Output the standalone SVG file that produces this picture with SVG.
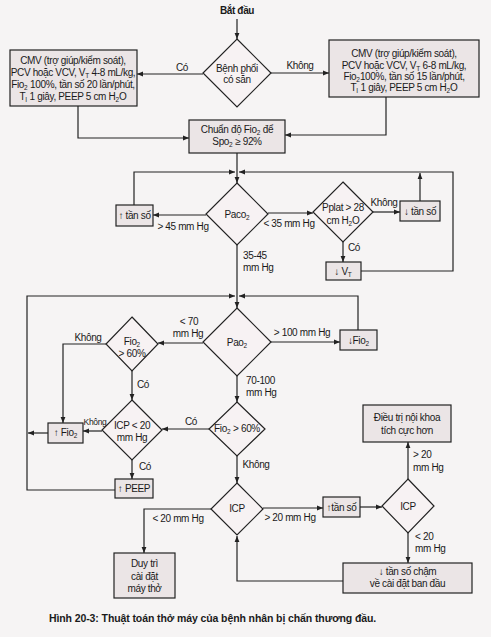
<svg xmlns="http://www.w3.org/2000/svg" width="491" height="637" viewBox="0 0 491 637">
<defs>
<marker id="ah" viewBox="0 0 10 10" refX="10" refY="5" markerWidth="6" markerHeight="6" orient="auto" markerUnits="userSpaceOnUse"><path d="M0,1 L10,5 L0,9 z" fill="#222"/></marker>
<style>
.box{fill:#ebe5e6;stroke:#222;stroke-width:1.2}
.dia{fill:#f7f2f3;stroke:#222;stroke-width:1.2}
.ln{fill:none;stroke:#222;stroke-width:1.2;marker-end:url(#ah)}
.nl{fill:none;stroke:#222;stroke-width:1.2}
text{font-family:"Liberation Sans",Arial,sans-serif;font-size:10px;letter-spacing:-0.35px;fill:#1a1a1a}
.c{text-anchor:middle}
.s{font-size:6.5px;letter-spacing:0}
.sm{font-size:8.5px}
.b{font-weight:bold}
</style>
</defs>
<rect x="0" y="0" width="491" height="637" fill="#f6f4f4"/>

<g id="connectors">
<path class="ln" d="M237,19 V39"/>
<path class="ln" d="M203,74 H137"/>
<path class="ln" d="M271,73 H329"/>
<path class="ln" d="M78,106 V138 H189"/>
<path class="ln" d="M386,97 V135 H285"/>
<path class="ln" d="M237,153 V183"/>
<path class="ln" d="M206,215 H153"/>
<path class="ln" d="M134,205 V172 H235"/>
<path class="ln" d="M268,213 H313"/>
<path class="ln" d="M373,212 H400"/>
<path class="ln" d="M420,201 V173"/>
<path class="ln" d="M343,242 V262"/>
<path class="ln" d="M361,271 H453 V172 H239"/>
<path class="ln" d="M237,245 V308"/>
<path class="ln" d="M203,343 H158"/>
<path class="ln" d="M106,344 H63 V423"/>
<path class="ln" d="M132,371 V400"/>
<path class="ln" d="M102,431 H83"/>
<path class="ln" d="M48,433 H28"/>
<path class="ln" d="M132,460 V479"/>
<path class="ln" d="M115,490 H27 V296 H235"/>
<path class="ln" d="M271,342 H340"/>
<path class="ln" d="M358,330 V296 H239"/>
<path class="ln" d="M237,376 V402"/>
<path class="ln" d="M209,429 H162"/>
<path class="ln" d="M237,456 V483"/>
<path class="ln" d="M211,509 H144 V553"/>
<path class="ln" d="M263,508 H323"/>
<path class="ln" d="M360,507 H382"/>
<path class="ln" d="M408,479 V442"/>
<path class="ln" d="M408,533 V563"/>
<path class="ln" d="M343,581 H237 V536"/>
</g>

<g id="labels">
<text class="c" x="182" y="71">Có</text>
<text class="c" x="300" y="69">Không</text>
<text class="c" x="183" y="230">&gt; 45 mm Hg</text>
<text class="c" x="289" y="227">&lt; 35 mm Hg</text>
<text class="c" x="384" y="206">Không</text>
<text class="c" x="354" y="251">Có</text>
<text x="243" y="259">35-45</text>
<text x="243" y="271">mm Hg</text>
<text class="c" x="189" y="325">&lt; 70</text>
<text class="c" x="188" y="337">mm Hg</text>
<text class="c" x="88" y="341">Không</text>
<text class="c" x="143" y="388">Có</text>
<text class="c" x="302" y="336">&gt; 100 mm Hg</text>
<text x="246" y="384">70-100</text>
<text x="246" y="396">mm Hg</text>
<text class="c" x="191" y="425">Có</text>
<text class="c sm" x="95" y="425">Không</text>
<text class="c" x="145" y="470">Có</text>
<text class="c" x="256" y="468">Không</text>
<text class="c" x="178" y="522">&lt; 20 mm Hg</text>
<text class="c" x="290" y="521">&gt; 20 mm Hg</text>
<text x="413" y="458">&gt; 20</text>
<text x="413" y="471">mm Hg</text>
<text x="415" y="540">&lt; 20</text>
<text x="415" y="552">mm Hg</text>
</g>

<g id="start"><text class="c b" x="237" y="14">Bắt đầu</text></g>

<g id="d-benhphoi">
<polygon class="dia" points="237,39 271,73 237,107 203,73"/>
<text class="c" x="237" y="72">Bệnh phổi</text>
<text class="c" x="237" y="83">có sẵn</text>
</g>

<g id="box-left">
<rect class="box" x="10" y="50" width="127" height="56"/>
<text class="c" x="73" y="64">CMV (trợ giúp/kiểm soát),</text>
<text class="c" x="73" y="76">PCV hoặc VCV, V<tspan class="s" dy="2">T</tspan><tspan dy="-2"> 4-8 mL/kg,</tspan></text>
<text class="c" x="73" y="88">Fio<tspan class="s" dy="2">2</tspan><tspan dy="-2"> 100%, tần số 20 lần/phút,</tspan></text>
<text class="c" x="73" y="100">T<tspan class="s" dy="2">I</tspan><tspan dy="-2"> 1 giây, PEEP 5 cm H</tspan><tspan class="s" dy="2">2</tspan><tspan dy="-2">O</tspan></text>
</g>

<g id="box-right">
<rect class="box" x="329" y="40" width="150" height="57"/>
<text class="c" x="404" y="57">CMV (trợ giúp/kiểm soát),</text>
<text class="c" x="404" y="69">PCV hoặc VCV, V<tspan class="s" dy="2">T</tspan><tspan dy="-2"> 6-8 mL/kg,</tspan></text>
<text class="c" x="404" y="80">Fio<tspan class="s" dy="2">2</tspan><tspan dy="-2">100%, tần số 15 lần/phút,</tspan></text>
<text class="c" x="404" y="91">T<tspan class="s" dy="2">I</tspan><tspan dy="-2"> 1 giây, PEEP 5 cm H</tspan><tspan class="s" dy="2">2</tspan><tspan dy="-2">O</tspan></text>
</g>

<g id="box-chuando">
<rect class="box" x="189" y="120" width="96" height="33"/>
<text class="c" x="237" y="133">Chuẩn độ Fio<tspan class="s" dy="2">2</tspan><tspan dy="-2"> để</tspan></text>
<text class="c" x="237" y="145">Spo<tspan class="s" dy="2">2</tspan><tspan dy="-2"> ≥ 92%</tspan></text>
</g>

<g id="d-paco2">
<polygon class="dia" points="237,183 268,214 237,245 206,214"/>
<text class="c" x="237" y="218">Paco<tspan class="s" dy="2">2</tspan></text>
</g>

<g id="box-tanso-up">
<rect class="box" x="116" y="205" width="37" height="21"/>
<text class="c" x="134.5" y="219">↑ tần số</text>
</g>

<g id="d-pplat">
<polygon class="dia" points="343,182 373,212 343,242 313,212"/>
<text class="c" x="343" y="211">Pplat &gt; 28</text>
<text class="c" x="343" y="224">cm H<tspan class="s" dy="2">2</tspan><tspan dy="-2">O</tspan></text>
</g>

<g id="box-tanso-down">
<rect class="box" x="400" y="201" width="40" height="20"/>
<text class="c" x="420" y="215">↓ tần số</text>
</g>

<g id="box-vt">
<rect class="box" x="326" y="262" width="35" height="18"/>
<text class="c" x="343" y="275">↓  V<tspan class="s" dy="2">T</tspan></text>
</g>

<g id="d-pao2">
<polygon class="dia" points="237,308 271,342 237,376 203,342"/>
<text class="c" x="237" y="346">Pao<tspan class="s" dy="2">2</tspan></text>
</g>

<g id="d-fio2-a">
<polygon class="dia" points="132,317 158,344 132,371 106,344"/>
<text class="c" x="132" y="345">Fio<tspan class="s" dy="2">2</tspan></text>
<text class="c" x="132" y="357">&gt; 60%</text>
</g>

<g id="box-fio2-down">
<rect class="box" x="340" y="330" width="37" height="20"/>
<text class="c" x="358.5" y="344">↓Fio<tspan class="s" dy="2">2</tspan></text>
</g>

<g id="d-icp20">
<polygon class="dia" points="132,400 162,430 132,460 102,430"/>
<text class="c" x="132" y="429">ICP &lt; 20</text>
<text class="c" x="132" y="441">mm Hg</text>
</g>

<g id="box-fio2-up">
<rect class="box" x="48" y="423" width="35" height="20"/>
<text class="c" x="65.5" y="436">↑ Fio<tspan class="s" dy="2">2</tspan></text>
</g>

<g id="box-peep">
<rect class="box" x="115" y="479" width="38" height="19"/>
<text class="c" x="134" y="492">↑  PEEP</text>
</g>

<g id="d-fio2-b">
<polygon class="dia" points="237,402 265,429 237,456 209,429"/>
<text class="c" x="237" y="432">Fio<tspan class="s" dy="2">2</tspan><tspan dy="-2"> &gt; 60%</tspan></text>
</g>

<g id="d-icp">
<polygon class="dia" points="237,483 263,509 237,535 211,509"/>
<text class="c" x="237" y="512">ICP</text>
</g>

<g id="box-tanso-up2">
<rect class="box" x="323" y="497" width="37" height="20"/>
<text class="c" x="341.5" y="511">↑tần số</text>
</g>

<g id="d-icp2">
<polygon class="dia" points="408,479 434,506 408,533 382,506"/>
<text class="c" x="408" y="510">ICP</text>
</g>

<g id="box-dieutri">
<rect class="box" x="363" y="405" width="88" height="37"/>
<text class="c" x="407" y="421">Điều trị nội khoa</text>
<text class="c" x="407" y="434">tích cực hơn</text>
</g>

<g id="box-duytri">
<rect class="box" x="114" y="553" width="61" height="45"/>
<text class="c" x="144.5" y="567">Duy trì</text>
<text class="c" x="144.5" y="580">cài đặt</text>
<text class="c" x="144.5" y="592">máy thở</text>
</g>

<g id="box-tansocham">
<rect class="box" x="343" y="563" width="129" height="30"/>
<text class="c" x="407.5" y="575">↓ tần số chậm</text>
<text class="c" x="407.5" y="587">về cài đặt ban đầu</text>
</g>

<g id="caption">
<text x="49" y="622" style="font-size:10.5px;letter-spacing:-0.1px"><tspan class="b">Hình 20-3:</tspan><tspan style="font-weight:600"> Thuật toán thở máy của bệnh nhân bị chấn thương đầu.</tspan></text>
</g>
</svg>
